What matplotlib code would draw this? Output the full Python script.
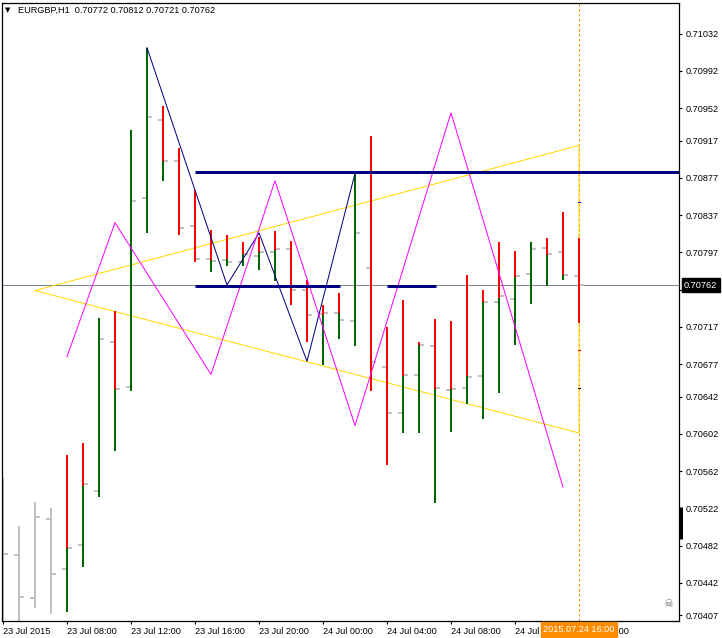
import numpy as np
import matplotlib
matplotlib.use("Agg")
import matplotlib.pyplot as plt
import matplotlib.transforms as mtransforms

# ---------------- data (EURGBP H1, bars from 23 Jul 04:00 to 24 Jul 16:00) ----------------
opens = [0.70470, 0.70472, 0.70426, 0.70511, 0.70457, 0.70483, 0.70541, 0.70701, 0.70652, 0.70855,
         0.70939, 0.70895, 0.70825, 0.70790, 0.70789, 0.70787, 0.70793, 0.70797, 0.70801, 0.70757,
         0.70731, 0.70732, 0.70723, 0.70780, 0.70674, 0.70624, 0.70665, 0.70697, 0.70649, 0.70651,
         0.70664, 0.70744, 0.70747, 0.70774, 0.70802, 0.70797, 0.70772]
highs = [0.70555, 0.70503, 0.70529, 0.70522, 0.70579, 0.70592, 0.70727, 0.70734, 0.70929, 0.71017,
         0.70954, 0.70909, 0.70864, 0.70821, 0.70816, 0.70808, 0.70814, 0.70820, 0.70809, 0.70767,
         0.70741, 0.70753, 0.70882, 0.70922, 0.70717, 0.70746, 0.70701, 0.70725, 0.70723, 0.70773,
         0.70757, 0.70808, 0.70799, 0.70808, 0.70813, 0.70840, 0.70812]
lows = [0.70398, 0.70399, 0.70415, 0.70408, 0.70411, 0.70459, 0.70534, 0.70584, 0.70648, 0.70818,
        0.70874, 0.70816, 0.70787, 0.70776, 0.70782, 0.70782, 0.70778, 0.70766, 0.70740, 0.70701,
        0.70676, 0.70704, 0.70696, 0.70648, 0.70569, 0.70603, 0.70603, 0.70528, 0.70604, 0.70634,
        0.70618, 0.70646, 0.70698, 0.70742, 0.70761, 0.70767, 0.70721]
closes = [0.70473, 0.70427, 0.70513, 0.70451, 0.70479, 0.70548, 0.70704, 0.70650, 0.70852, 0.70943,
          0.70895, 0.70823, 0.70790, 0.70788, 0.70787, 0.70795, 0.70797, 0.70801, 0.70757, 0.70730,
          0.70732, 0.70724, 0.70818, 0.70679, 0.70624, 0.70665, 0.70698, 0.70651, 0.70650, 0.70663,
          0.70744, 0.70750, 0.70772, 0.70801, 0.70795, 0.70773, 0.70762]
# red above / green below this level (indicator overlay); nan = no overlay
splits = [np.nan, np.nan, np.nan, np.nan, 0.70479, 0.70546, 0.70727, 0.70650, 0.70929, 0.71017,
          0.70895, 0.70816, 0.70787, 0.70789, 0.70790, 0.70795, 0.70797, 0.70800, 0.70740, 0.70701,
          0.70730, 0.70732, 0.70882, 0.70648, 0.70569, 0.70664, 0.70698, 0.70650, 0.70650, 0.70664,
          0.70744, 0.70748, 0.70771, 0.70808, 0.70794, 0.70773, 0.70721]

xtick_bars = [0, 4, 8, 12, 16, 20, 24, 28, 32, 36]
xtick_labels = ["23 Jul 2015", "23 Jul 08:00", "23 Jul 12:00", "23 Jul 16:00", "23 Jul 20:00",
                "24 Jul 00:00", "24 Jul 04:00", "24 Jul 08:00", "24 Jul 12:00", "24 Jul 16:00"]
ytick_values = [0.71032, 0.70992, 0.70952, 0.70917, 0.70877, 0.70837, 0.70797, 0.70757,
                0.70717, 0.70677, 0.70642, 0.70602, 0.70562, 0.70522, 0.70482, 0.70442, 0.70407]

current_price = 0.70762
cursor_bar = 36
cursor_label = "2015.07.24 16:00"
header = "EURGBP,H1  0.70772 0.70812 0.70721 0.70762"

# drawn objects
triangle_x = [36, 2, 36, 36]
triangle_y = [0.70912, 0.70756, 0.70603, 0.70912]
navy_zz_x = [9, 14, 16, 19, 22]
navy_zz_y = [0.71017, 0.70762, 0.70818, 0.70680, 0.70882]
mag_zz_x = [4, 7, 13, 17, 22, 28, 35]
mag_zz_y = [0.70685, 0.70829, 0.70666, 0.70874, 0.70611, 0.70947, 0.70545]
upper_level = 0.70883
upper_start = 12
lower_level = 0.70761
lower_segments = [(12, 21.06), (24, 27.06)]
marker_prices = [0.70851, 0.70692, 0.70651]
marker_colors = ["#0000FF", "#FF0000", "#000000"]

# ---------------- figure ----------------
W, H = 722, 638
fig = plt.figure(figsize=(W / 100, H / 100), dpi=100)
fig.patch.set_facecolor("white")
L, R, T, B = 2, 679, 3, 621
ax = fig.add_axes([L / W, 1 - B / H, (R - L) / W, (B - T) / H])
xmin = -1 / 16
xmax = xmin + (R - L) / 16
ax.set_xlim(xmin, xmax)
ax.set_ylim(0.70401, 0.71065)
ax.set_facecolor("white")

FONT = "Liberation Sans"
FS = 6.6
px = 0.72  # one pixel in points

# current price line
ax.axhline(current_price, color="#778899", lw=px, zorder=1)

# cursor line
ax.axvline(cursor_bar, color="#FF8C00", lw=px, ls=(0, (2.5, 2.5)), zorder=1.2)

# triangle (under the bars)
ax.plot(triangle_x, triangle_y, color="#FFD700", lw=px, zorder=1.5)

# gray OHLC bars
gray = "#C0C0C0"
tk = 0.3
for i in range(len(opens)):
    ax.plot([i, i], [lows[i], highs[i]], color=gray, lw=2 * px, solid_capstyle="butt", zorder=2)
    ax.plot([i - tk, i], [opens[i], opens[i]], color=gray, lw=2 * px, solid_capstyle="butt", zorder=2)
    ax.plot([i, i + tk], [closes[i], closes[i]], color=gray, lw=2 * px, solid_capstyle="butt", zorder=2)

# red/green overlay
for i in range(len(opens)):
    s = splits[i]
    if np.isnan(s):
        continue
    if highs[i] > s:
        ax.plot([i, i], [s, highs[i]], color="#FF0000", lw=2 * px, solid_capstyle="butt", zorder=3)
    if s > lows[i]:
        ax.plot([i, i], [lows[i], s], color="#006400", lw=2 * px, solid_capstyle="butt", zorder=3)

# zigzags
ax.plot(navy_zz_x, navy_zz_y, color="#000080", lw=px, zorder=4.5)
ax.plot(mag_zz_x, mag_zz_y, color="#FF00FF", lw=px, zorder=4.5)
# thick levels
ax.plot([upper_start, xmax], [upper_level, upper_level], color="#000080", lw=3 * px,
        solid_capstyle="butt", zorder=5)
for a, b in lower_segments:
    ax.plot([a, b], [lower_level, lower_level], color="#000080", lw=3 * px,
            solid_capstyle="butt", zorder=5)
# small marks on cursor bar
for p, c in zip(marker_prices, marker_colors):
    ax.plot([cursor_bar - 0.06, cursor_bar + 0.06], [p, p], color=c, lw=1 * px, zorder=6)

# axes styling
for sp in ax.spines.values():
    sp.set_color("black")
    sp.set_linewidth(0.9)
ax.yaxis.tick_right()
ax.set_yticks(ytick_values)
ax.set_yticklabels([f"{v:.5f}" for v in ytick_values], fontfamily=FONT, fontsize=FS)
ax.tick_params(axis="y", direction="out", length=2.5, width=0.8, pad=2, colors="black")
ax.set_xticks(xtick_bars)
ax.set_xticklabels(xtick_labels, fontfamily=FONT, fontsize=FS, ha="left")
ax.tick_params(axis="x", direction="out", length=2.5, width=0.8, pad=2, colors="black")

# current price label on the scale
yb = mtransforms.blended_transform_factory(ax.transAxes, ax.transData)
ax.text(1.0 + 5 / (R - L), current_price, f"{current_price:.5f}", transform=yb,
        ha="left", va="center", color="white", fontfamily=FONT, fontsize=FS,
        bbox=dict(facecolor="black", edgecolor="black", boxstyle="square,pad=0.25"),
        zorder=20, clip_on=False)
# spread block on the scale
ax.plot([1.0 + 1.5 / (R - L)] * 2, [0.70524, 0.70489], transform=yb, color="black",
        lw=3 * px, solid_capstyle="butt", clip_on=False, zorder=20)

# cursor date label
xb = mtransforms.blended_transform_factory(ax.transData, ax.transAxes)
ax.text(cursor_bar, -8.5 / (B - T), cursor_label, transform=xb, ha="center", va="center",
        color="white", fontfamily=FONT, fontsize=FS,
        bbox=dict(facecolor="#FF8C00", edgecolor="#FF8C00", boxstyle="square,pad=0.3"),
        zorder=20, clip_on=False)

# header
fig.text(5 / W, 1 - 10.5 / H, "\u25BC", fontfamily="DejaVu Sans", fontsize=5, va="center", color="black")
fig.text(18 / W, 1 - 10.5 / H, header, fontfamily=FONT, fontsize=FS, va="center", color="black")
# skull icon
fig.text(668 / W, 1 - 604 / H, "\u2620", fontfamily="DejaVu Sans", fontsize=8, ha="center",
         va="center", color="#707070")

fig.savefig("out.png", dpi=100, facecolor="white")
